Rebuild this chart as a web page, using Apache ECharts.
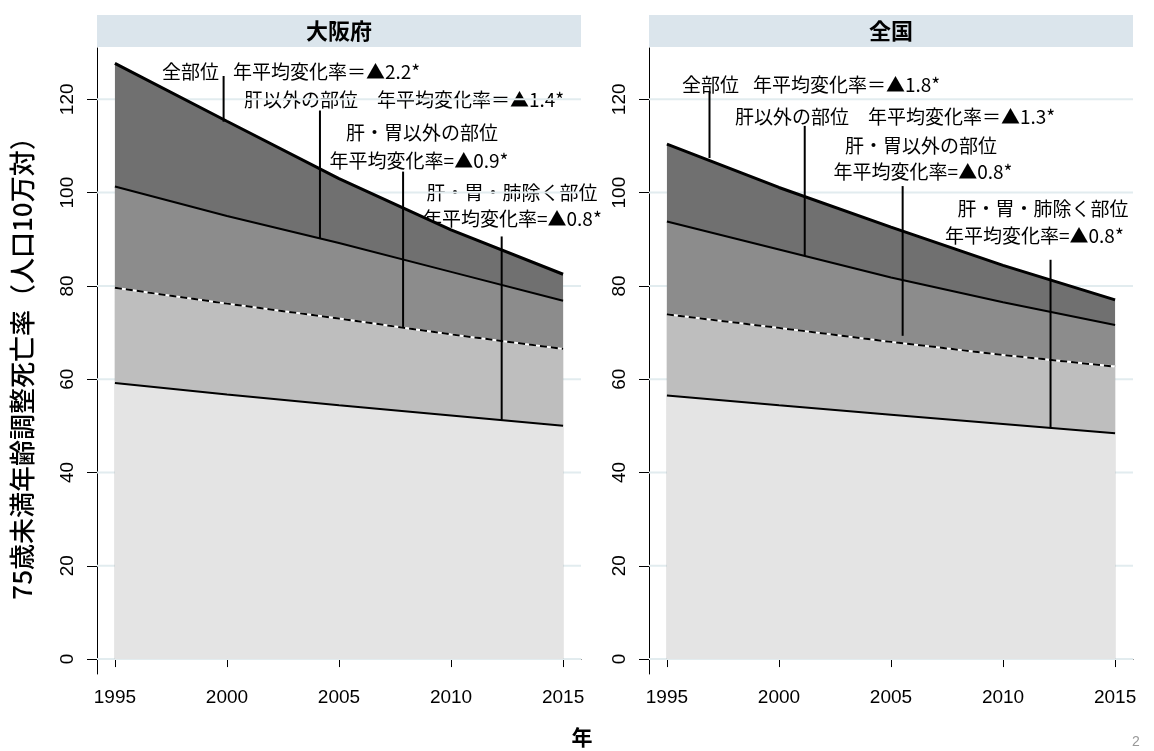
<!DOCTYPE html>
<html><head><meta charset="utf-8">
<script src="https://cdn.jsdelivr.net/npm/echarts@6/dist/echarts.min.js"></script>
<style>html,body{margin:0;padding:0;background:#fff}#c{width:1154px;height:751px}</style>
</head><body><div id="c"></div>
<script>
// ---- data ----
const years = [1995, 2000, 2005, 2010, 2015];
const yTicks = [0, 20, 40, 60, 80, 100, 120];
const xTicks = [1995, 2000, 2005, 2010, 2015];
const panelTitles = ['大阪府', '全国'];
// boundaries (cumulative) : all sites, excl. liver, excl. liver+stomach, excl. liver+stomach+lung
const osakaAll      = [127.7, 115.3, 103.0, 92.0, 82.5];
const osakaNoLiver  = [101.3, 95.0, 89.2, 83.0, 76.8];
const osakaNoLS     = [79.6, 76.2, 73.0, 69.6, 66.5];
const osakaNoLSL    = [59.2, 56.7, 54.4, 52.2, 50.0];
const japanAll      = [110.4, 101.1, 92.6, 84.4, 77.0];
const japanNoLiver  = [93.8, 87.8, 81.8, 76.5, 71.6];
const japanNoLS     = [73.9, 71.0, 68.0, 65.2, 62.7];
const japanNoLSL    = [56.5, 54.4, 52.4, 50.4, 48.4];
// leader lines: [year, yTop, yBottom]
const osakaLeaders = [[1999.85, 125.0, 115.2], [2004.15, 117.6, 90.2], [2007.86, 104.5, 71.2], [2012.26, 90.6, 51.3]];
const japanLeaders = [[1996.9, 121.7, 107.4], [2001.15, 114.3, 86.4], [2005.52, 101.4, 69.3], [2012.12, 85.6, 49.5]];
const areaNames = ['肝', '胃', '肺', 'その他の部位'];
const osakaNotes = [
  ['全部位', '年平均変化率＝▲2.2*'],
  ['肝以外の部位', '年平均変化率＝▲1.4*'],
  ['肝・胃以外の部位', '年平均変化率=▲0.9*'],
  ['肝・胃・肺除く部位', '年平均変化率=▲0.8*']
];
const japanNotes = [
  ['全部位', '年平均変化率＝▲1.8*'],
  ['肝以外の部位', '年平均変化率＝▲1.3*'],
  ['肝・胃以外の部位', '年平均変化率=▲0.8*'],
  ['肝・胃・肺除く部位', '年平均変化率=▲0.8*']
];
const yAxisTitle = '75歳未満年齢調整死亡率（人口10万対）';
const xAxisTitle = '年';

// ---- chart ----
const chart = echarts.init(document.getElementById('c'), null, {renderer: 'canvas'});
const JP = '"Noto Sans CJK JP", "Noto Sans", sans-serif';
const NUM = '"Liberation Sans Narrow", "Liberation Sans", Arial, sans-serif';
const gridLefts = [97, 649];
const gridW = 484, gridTop = 48, gridH = 626;
const xMin = 1994.2, xMax = 2015.8;

const zip = a => years.map((y, i) => [y, a[i]]);
const panels = [
  [osakaAll, osakaNoLiver, osakaNoLS, osakaNoLSL, osakaLeaders],
  [japanAll, japanNoLiver, japanNoLS, japanNoLSL, japanLeaders]
];
const fills = ['#707070', '#8c8c8c', '#bebebe', '#e4e4e4'];

const grids = [], xAxes = [], yAxes = [], series = [];
panels.forEach((p, k) => {
  grids.push({left: gridLefts[k], top: gridTop, width: gridW, height: gridH});
  xAxes.push({
    type: 'value', gridIndex: k, min: xMin, max: xMax,
    axisLine: {show: true, lineStyle: {color: '#000', width: 1}},
    axisTick: {show: true, length: 8, customValues: xTicks, lineStyle: {color: '#000'}},
    axisLabel: {customValues: xTicks, formatter: v => String(v), color: '#000', fontSize: 19, fontFamily: NUM, margin: 14},
    splitLine: {show: false}
  });
  yAxes.push({
    type: 'value', gridIndex: k, min: -3.2, max: 131,
    axisLine: {show: true, lineStyle: {color: '#000', width: 1}},
    axisTick: {show: true, length: 10, customValues: yTicks, lineStyle: {color: '#000'}},
    axisLabel: {customValues: yTicks, formatter: v => String(v), rotate: 90, color: '#000', fontSize: 19, fontFamily: NUM, margin: 20},
    splitLine: {show: false}
  });
  // gridlines (behind areas)
  yTicks.forEach(v => {
    series.push({
      type: 'line', xAxisIndex: k, yAxisIndex: k, data: [[xMin, v], [xMax, v]], z: 0, silent: true,
      showSymbol: false, lineStyle: {color: '#e2ecef', width: 2}
    });
  });
  for (let i = 0; i < 4; i++) {
    series.push({
      type: 'line', xAxisIndex: k, yAxisIndex: k, data: zip(p[i]), showSymbol: false, silent: true, z: 2,
      areaStyle: {color: fills[i], opacity: 1, origin: 0},
      lineStyle: {color: i === 2 ? '#fff' : '#000', width: i === 0 ? 3 : 2}
    });
  }
  series.push({
    type: 'line', xAxisIndex: k, yAxisIndex: k, data: zip(p[2]), showSymbol: false, silent: true, z: 3,
    lineStyle: {color: '#000', width: 2, type: [7, 4]}
  });
  p[4].forEach(l => {
    series.push({
      type: 'line', xAxisIndex: k, yAxisIndex: k, data: [[l[0], l[1]], [l[0], l[2]]],
      showSymbol: false, silent: true, z: 4, lineStyle: {color: '#000', width: 2}
    });
  });
});

const t = (x, y, text, opt) => Object.assign({
  type: 'text', x, y, silent: true,
  style: Object.assign({text, fill: '#000', font: '19px ' + JP, align: 'left', verticalAlign: 'middle'}, opt || {})
});
const graphics = [];
gridLefts.forEach((gl, k) => {
  graphics.push({type: 'rect', shape: {x: gl, y: 15, width: gridW, height: 32}, style: {fill: '#dbe5ec'}, silent: true});
  graphics.push(t(gl + gridW / 2, 31, panelTitles[k], {font: 'bold 22px ' + JP, align: 'center'}));
});
// annotations
const nO = osakaNotes, nJ = japanNotes;
graphics.push(
  t(219, 72, nO[0][0], {align: 'right'}), t(233, 72, nO[0][1]),
  t(244, 100, nO[1][0]), t(377, 100, nO[1][1]),
  t(422, 133, nO[2][0], {align: 'center'}), t(419, 161, nO[2][1], {align: 'center'}),
  t(512, 193, nO[3][0], {align: 'center'}), t(423, 219, nO[3][1]),
  t(739, 85, nJ[0][0], {align: 'right'}), t(753, 85, nJ[0][1]),
  t(735, 117, nJ[1][0]), t(868, 117, nJ[1][1]),
  t(921, 146, nJ[2][0], {align: 'center'}), t(923, 172, nJ[2][1], {align: 'center'}),
  t(1043, 209, nJ[3][0], {align: 'center'}), t(945, 236, nJ[3][1])
);
// area names
const areaLab = [[[255, 185], [255, 265], [255, 361], [329, 526]], [[770, 223], [770, 297], [770, 372], [844, 526]]];
areaLab.forEach(pl => pl.forEach((pt, i) => {
  graphics.push(t(pt[0], pt[1], areaNames[i], {
    align: 'center', font: (i === 3 ? '28px ' : '25px ') + JP, fill: i < 2 ? '#fff' : '#000'
  }));
}));
graphics.push({type: 'text', x: 22, y: 362, rotation: Math.PI / 2, silent: true,
  style: {text: yAxisTitle, font: '500 26px ' + JP, fill: '#000', align: 'center', verticalAlign: 'middle'}});
graphics.push(t(582, 737, xAxisTitle, {align: 'center', font: 'bold 21px ' + JP}));
graphics.push(t(1136, 742, '2', {align: 'center', font: '14px ' + NUM, fill: '#999'}));

chart.setOption({
  animation: false,
  backgroundColor: '#fff',
  grid: grids, xAxis: xAxes, yAxis: yAxes, series,
  graphic: graphics
});
</script></body></html>
